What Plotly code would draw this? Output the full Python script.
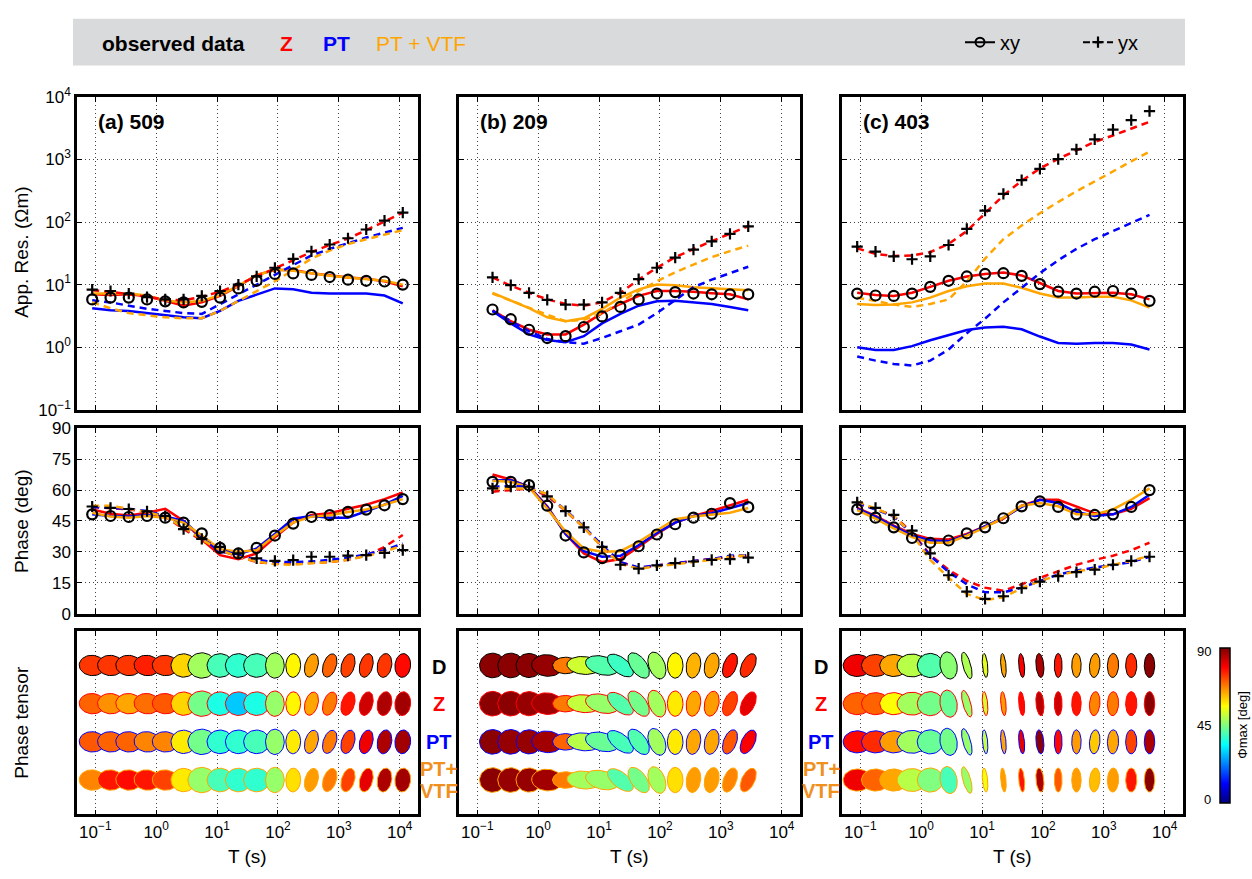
import numpy as np
import plotly.graph_objects as go
from plotly.colors import sample_colorscale

W, H = 1252, 879
FONT = "Liberation Sans, Arial, Helvetica, sans-serif"

# ======================= DATA =======================
# ---- site 509 (a) ----
T_a = [0.089, 0.178, 0.355, 0.708, 1.41, 2.82, 5.62, 11.2, 22.4, 44.7, 89.1, 178, 355, 708, 1413, 2818, 5623, 11220]
rho_obs_xy_a = [5.8, 6.2, 6.2, 5.8, 5.4, 5.2, 5.3, 6.2, 8.7, 11.5, 14.8, 15.1, 14.3, 13.2, 12.0, 11.5, 11.2, 10.0]
rho_obs_yx_a = [8.3, 7.9, 7.2, 6.3, 5.8, 5.8, 6.6, 7.9, 10.0, 13.5, 18.6, 25.7, 33.9, 43.7, 55.0, 75.9, 105, 141]
rho_Z_xy_a = [7.0, 6.8, 7.0, 6.5, 5.5, 4.6, 5.2, 6.6, 9.4, 14.3, 17.1, 17.1, 15.2, 14.0, 13.0, 12.4, 11.3, 9.4]
rho_PT_xy_a = [4.2, 3.9, 3.8, 3.5, 3.2, 3.0, 2.9, 3.8, 5.5, 7.0, 8.7, 8.4, 7.4, 7.2, 7.2, 7.2, 6.7, 5.0]
rho_PV_xy_a = [7.2, 7.2, 7.2, 6.7, 5.6, 5.2, 5.5, 6.8, 9.6, 14.0, 17.5, 16.7, 15.2, 13.8, 13.0, 12.1, 11.5, 10.0]
rho_Z_yx_a = [8.1, 7.7, 7.0, 6.4, 5.8, 5.6, 6.4, 7.7, 10.0, 13.5, 18.2, 24.5, 33.0, 42.9, 54.4, 74.1, 102, 141]
rho_PT_yx_a = [5.6, 5.2, 4.6, 4.1, 3.8, 3.5, 3.4, 4.9, 7.0, 10.0, 14.3, 20.5, 29.2, 37.2, 46.0, 56.4, 67.5, 80.7]
rho_PV_yx_a = [5.2, 4.2, 3.5, 3.2, 3.0, 2.9, 2.9, 3.8, 5.5, 7.9, 11.3, 17.1, 26.0, 35.0, 44.5, 53.1, 63.5, 74.1]
phs_obs_xy_a = [48.2, 47.4, 46.9, 47.4, 46.6, 44.2, 39.0, 31.9, 29.2, 31.9, 37.9, 43.7, 46.9, 47.8, 49.4, 50.5, 52.6, 55.6]
phs_obs_yx_a = [52.0, 51.3, 50.8, 49.7, 47.4, 41.0, 36.3, 32.4, 29.2, 26.8, 25.6, 26.0, 27.6, 27.6, 28.1, 28.4, 29.5, 30.8]
phs_Z_xy_a = [50.6, 48.5, 47.7, 49.0, 50.9, 45.0, 36.0, 28.4, 26.4, 29.2, 37.1, 44.2, 47.9, 48.7, 50.9, 52.9, 55.6, 58.8]
phs_PT_xy_a = [48.2, 47.4, 47.1, 47.7, 47.1, 45.0, 37.1, 30.0, 28.8, 31.6, 38.7, 46.1, 47.4, 46.6, 46.6, 49.8, 52.9, 57.2]
phs_PV_xy_a = [49.0, 47.1, 46.6, 47.4, 46.6, 44.2, 37.9, 31.3, 30.0, 30.8, 37.9, 44.2, 47.1, 47.7, 49.3, 50.6, 52.9, 55.6]
phs_Z_yx_a = [51.8, 51.3, 50.6, 49.3, 47.1, 41.1, 35.5, 30.8, 27.6, 25.0, 24.2, 24.2, 24.5, 25.0, 26.1, 28.1, 32.4, 38.2]
phs_PT_yx_a = [51.8, 51.3, 50.9, 49.8, 47.4, 41.9, 36.3, 31.3, 28.1, 26.1, 25.0, 25.0, 25.3, 26.1, 27.2, 28.8, 30.8, 34.0]
phs_PV_yx_a = [52.4, 52.4, 50.9, 49.3, 47.1, 41.9, 36.0, 30.8, 27.6, 25.3, 24.0, 23.7, 24.5, 25.0, 26.1, 28.1, 30.0, 33.2]
# phase tensor: Phi_max (deg) for D, Z, PT, PT+VTF; relative axes and orientation
ptmax_D_a = [74, 74, 74, 76, 74, 60, 48, 40, 38, 40, 48, 57, 65, 70, 73, 74, 74, 78]
ptmax_Z_a = [70, 66, 64, 69, 71, 60, 44, 36, 29, 36, 47, 57, 64, 68, 77, 83, 86, 87]
ptmax_PT_a = [71, 70, 70, 67, 67, 58, 44, 38, 38, 40, 47, 58, 64, 68, 73, 80, 86, 87]
ptmax_PV_a = [67, 77, 78, 77, 73, 58, 47, 40, 38, 38, 47, 59, 65, 68, 73, 81, 86, 87]
pt_major_a = [1.0, 1.0, 1.0, 1.0, 1.0, 0.97, 1.07, 1.0, 1.0, 1.0, 1.0, 0.94, 0.94, 0.95, 0.95, 0.95, 0.95, 0.94]
pt_minor_a = [0.8, 0.8, 0.8, 0.8, 0.8, 0.92, 1.0, 0.93, 0.93, 0.93, 0.72, 0.57, 0.5, 0.5, 0.5, 0.5, 0.55, 0.6]
pt_angle_a = [-5, -5, -5, -8, -5, 0, 0, 0, 0, 0, 90, 88, 75, 72, 74, 76, 80, 85]

# ---- site 209 (b) ----
T_b = [0.178, 0.355, 0.708, 1.41, 2.82, 5.62, 11.2, 22.4, 44.7, 89.1, 178, 355, 708, 1413, 2818]
rho_obs_xy_b = [4.0, 2.8, 1.9, 1.4, 1.5, 2.1, 3.1, 4.4, 5.8, 7.2, 7.6, 7.2, 7.0, 7.0, 7.0]
rho_obs_yx_b = [13.0, 9.8, 7.4, 5.7, 4.8, 4.8, 5.2, 7.4, 12.2, 18.6, 26.9, 36.3, 49.0, 64.6, 85.1]
rho_Z_xy_b = [3.9, 2.6, 1.9, 1.6, 1.6, 2.3, 3.5, 4.9, 6.6, 7.9, 7.9, 7.7, 7.3, 7.0, 5.8]
rho_PT_xy_b = [3.8, 2.4, 1.6, 1.3, 1.2, 1.5, 2.4, 3.4, 4.6, 5.4, 5.5, 5.2, 4.9, 4.4, 3.9]
rho_PV_xy_b = [7.4, 5.6, 4.2, 3.0, 2.6, 2.9, 4.1, 6.2, 8.4, 10.0, 9.8, 9.1, 8.7, 8.4, 8.1]
rho_Z_yx_b = [13.0, 9.6, 7.4, 5.8, 4.9, 4.6, 5.2, 7.4, 12.0, 18.6, 27.5, 37.2, 49.4, 65.0, 85.7]
rho_PT_yx_b = [3.8, 2.6, 1.8, 1.35, 1.2, 1.14, 1.4, 1.8, 2.3, 3.5, 5.6, 9.1, 12.0, 15.2, 19.3]
rho_PV_yx_b = [7.2, 5.5, 4.2, 3.3, 2.6, 2.75, 3.5, 5.2, 7.9, 11.3, 15.7, 20.9, 27.5, 34.2, 41.9]
phs_obs_xy_b = [64.0, 64.0, 62.4, 52.4, 37.9, 29.7, 26.9, 28.4, 32.7, 38.4, 43.4, 46.6, 48.5, 53.7, 51.7]
phs_obs_yx_b = [60.8, 61.6, 61.6, 56.9, 49.8, 41.9, 32.4, 23.7, 21.8, 23.4, 24.5, 25.3, 26.1, 26.4, 27.2]
phs_Z_xy_b = [67.6, 65.1, 61.6, 52.1, 38.7, 29.2, 25.0, 26.5, 32.4, 38.7, 44.2, 47.4, 49.8, 52.4, 55.3]
phs_PT_xy_b = [64.8, 64.8, 61.6, 51.8, 38.7, 30.3, 27.6, 28.1, 33.2, 39.2, 44.2, 47.4, 48.7, 51.3, 53.7]
phs_PV_xy_b = [64.5, 64.0, 61.3, 50.9, 39.8, 31.6, 30.0, 30.3, 34.8, 40.3, 45.8, 47.1, 48.2, 49.0, 51.3]
phs_Z_yx_b = [59.2, 60.0, 60.8, 57.2, 49.8, 41.9, 32.4, 25.0, 22.1, 23.4, 24.5, 25.6, 26.5, 27.6, 28.1]
phs_PT_yx_b = [61.6, 61.9, 61.6, 57.7, 50.2, 42.3, 33.2, 25.0, 22.4, 23.4, 24.6, 25.6, 26.5, 28.1, 28.4]
phs_PV_yx_b = [60.8, 60.8, 60.8, 58.1, 50.2, 41.9, 32.4, 24.0, 21.8, 22.9, 24.2, 25.3, 26.1, 27.6, 28.4]
ptmax_D_b = [89, 89, 89, 88, 68, 52, 41, 39, 43, 48, 57, 63, 64, 77, 75]
ptmax_Z_b = [89, 89, 88, 87, 68, 51, 47, 41, 44, 48, 58, 64, 65, 73, 81]
ptmax_PT_b = [89, 88, 88, 87, 70, 50, 43, 40, 41, 48, 58, 64, 64, 71, 79]
ptmax_PV_b = [89, 88, 88, 87, 68, 48, 47, 41, 44, 48, 59, 65, 65, 67, 71]
pt_major_b = [1.0, 1.0, 1.0, 1.2, 1.0, 1.3, 1.3, 1.2, 1.15, 1.1, 1.0, 1.0, 1.0, 1.0, 1.0]
pt_minor_b = [0.97, 0.97, 0.95, 0.85, 0.65, 0.7, 0.72, 0.6, 0.6, 0.62, 0.6, 0.55, 0.55, 0.5, 0.5]
pt_angle_b = [0, 0, 0, -5, 0, -5, -15, -40, -55, -70, 90, 82, 78, 70, 65]

# ---- site 403 (c) ----
T_c = [0.089, 0.178, 0.355, 0.708, 1.41, 2.82, 5.62, 11.2, 22.4, 44.7, 89.1, 178, 355, 708, 1413, 2818, 5623]
rho_obs_xy_c = [7.2, 6.7, 6.6, 7.2, 9.2, 11.5, 13.5, 14.8, 15.2, 13.8, 10.2, 7.7, 7.2, 7.7, 7.9, 7.2, 5.5]
rho_obs_yx_c = [40.4, 33.7, 28.2, 25.4, 28.2, 42.9, 77.8, 152, 282, 466, 708, 1012, 1449, 2094, 3000, 4236, 5916]
rho_Z_xy_c = [7.4, 6.8, 6.6, 7.4, 9.2, 11.5, 13.5, 14.8, 15.6, 14.0, 10.6, 7.9, 7.2, 7.2, 7.4, 7.0, 5.8]
rho_PT_xy_c = [1.0, 0.90, 0.90, 1.04, 1.29, 1.57, 1.88, 2.07, 2.12, 1.93, 1.48, 1.17, 1.13, 1.17, 1.17, 1.10, 0.92]
rho_PV_xy_c = [4.9, 4.7, 4.8, 5.2, 6.2, 7.9, 9.4, 10.4, 10.4, 8.9, 7.2, 6.2, 6.2, 6.4, 6.4, 5.6, 4.3]
rho_Z_yx_c = [38.0, 31.0, 28.6, 29.2, 33.0, 44.5, 71.6, 138, 266, 455, 716, 1023, 1413, 1905, 2415, 3141, 3990]
rho_PT_yx_c = [0.71, 0.61, 0.54, 0.51, 0.61, 0.92, 1.67, 2.86, 5.2, 8.9, 15.2, 24.5, 37.2, 53.1, 71.6, 96.4, 130]
rho_PV_yx_c = [6.2, 5.4, 4.8, 4.4, 4.9, 5.8, 11.3, 26.0, 53.1, 87.7, 138, 209, 310, 445, 650, 931, 1330]
phs_obs_xy_c = [50.6, 46.6, 41.9, 36.7, 34.4, 35.5, 39.0, 41.9, 46.3, 52.1, 54.5, 51.8, 48.2, 47.9, 48.2, 51.8, 60.0]
phs_obs_yx_c = [54.0, 51.3, 47.9, 40.3, 29.2, 18.6, 10.7, 7.1, 8.4, 12.3, 15.5, 18.2, 20.1, 21.3, 23.7, 25.6, 27.6]
phs_Z_xy_c = [51.3, 47.4, 42.7, 38.7, 36.3, 36.0, 38.7, 42.3, 46.1, 52.4, 55.3, 55.3, 52.1, 48.7, 48.2, 50.9, 56.1]
phs_PT_xy_c = [50.9, 47.1, 42.3, 37.9, 35.5, 35.1, 38.2, 42.3, 46.6, 51.8, 55.3, 53.7, 49.3, 47.4, 48.2, 51.8, 57.7]
phs_PV_xy_c = [50.2, 46.1, 41.4, 37.1, 34.4, 34.4, 37.9, 41.9, 46.6, 52.4, 53.7, 52.1, 48.2, 48.2, 50.6, 55.3, 60.8]
phs_Z_yx_c = [53.4, 50.9, 47.4, 39.5, 28.4, 21.3, 15.8, 12.6, 11.1, 14.2, 17.4, 20.5, 23.7, 26.1, 28.1, 30.8, 34.4]
phs_PT_yx_c = [53.7, 50.6, 47.1, 38.7, 28.1, 20.2, 14.2, 10.3, 10.3, 12.6, 15.8, 19.0, 20.9, 22.4, 23.7, 25.0, 27.6]
phs_PV_yx_c = [54.5, 50.9, 47.4, 38.7, 26.1, 17.4, 9.5, 6.6, 7.9, 12.3, 15.8, 18.6, 20.5, 21.8, 23.7, 25.6, 28.1]
ptmax_D_c = [80, 73, 64, 50, 41, 46, 49, 54, 64, 79, 86, 77, 65, 65, 68, 75, 89]
ptmax_Z_c = [70, 70, 56, 48, 44, 43, 47, 52, 65, 78, 85, 83, 77, 67, 68, 77, 89]
ptmax_PT_c = [78, 75, 65, 48, 43, 44, 47, 51, 64, 81, 89, 78, 65, 61, 64, 73, 86]
ptmax_PV_c = [80, 70, 64, 50, 45, 40, 47, 55, 65, 77, 86, 71, 65, 62, 65, 77, 89]
pt_major_c = [1.08, 1.08, 1.08, 1.15, 1.0, 1.08, 1.08, 0.95, 0.95, 0.95, 0.95, 0.95, 0.95, 0.95, 0.95, 0.95, 0.95]
pt_minor_c = [0.87, 0.87, 0.87, 0.9, 0.95, 0.65, 0.3, 0.2, 0.2, 0.22, 0.3, 0.3, 0.36, 0.4, 0.43, 0.43, 0.4]
pt_angle_c = [0, 0, 0, 0, 0, 100, 105, 95, 95, 95, 95, 90, 90, 85, 88, 90, 90]

site_labels = ["(a) 509", "(b) 209", "(c) 403"]
pt_row_labels = ["D", "Z", "PT", "PT+VTF"]
x_tickvals = [0.1, 1, 10, 100, 1000, 10000]
x_ticktext = ["10<sup>\u22121</sup>", "10<sup>0</sup>", "10<sup>1</sup>", "10<sup>2</sup>", "10<sup>3</sup>", "10<sup>4</sup>"]
rho_tickvals = [0.1, 1, 10, 100, 1000, 10000]
rho_ticktext = x_ticktext
phs_tickvals = [0, 15, 30, 45, 60, 75, 90]

SITES = [
    dict(T=T_a,
         rho=dict(obs_xy=rho_obs_xy_a, obs_yx=rho_obs_yx_a, Z_xy=rho_Z_xy_a, PT_xy=rho_PT_xy_a, PV_xy=rho_PV_xy_a,
                  Z_yx=rho_Z_yx_a, PT_yx=rho_PT_yx_a, PV_yx=rho_PV_yx_a),
         phs=dict(obs_xy=phs_obs_xy_a, obs_yx=phs_obs_yx_a, Z_xy=phs_Z_xy_a, PT_xy=phs_PT_xy_a, PV_xy=phs_PV_xy_a,
                  Z_yx=phs_Z_yx_a, PT_yx=phs_PT_yx_a, PV_yx=phs_PV_yx_a),
         ptmax=[ptmax_D_a, ptmax_Z_a, ptmax_PT_a, ptmax_PV_a],
         major=pt_major_a, minor=pt_minor_a, angle=pt_angle_a),
    dict(T=T_b,
         rho=dict(obs_xy=rho_obs_xy_b, obs_yx=rho_obs_yx_b, Z_xy=rho_Z_xy_b, PT_xy=rho_PT_xy_b, PV_xy=rho_PV_xy_b,
                  Z_yx=rho_Z_yx_b, PT_yx=rho_PT_yx_b, PV_yx=rho_PV_yx_b),
         phs=dict(obs_xy=phs_obs_xy_b, obs_yx=phs_obs_yx_b, Z_xy=phs_Z_xy_b, PT_xy=phs_PT_xy_b, PV_xy=phs_PV_xy_b,
                  Z_yx=phs_Z_yx_b, PT_yx=phs_PT_yx_b, PV_yx=phs_PV_yx_b),
         ptmax=[ptmax_D_b, ptmax_Z_b, ptmax_PT_b, ptmax_PV_b],
         major=pt_major_b, minor=pt_minor_b, angle=pt_angle_b),
    dict(T=T_c,
         rho=dict(obs_xy=rho_obs_xy_c, obs_yx=rho_obs_yx_c, Z_xy=rho_Z_xy_c, PT_xy=rho_PT_xy_c, PV_xy=rho_PV_xy_c,
                  Z_yx=rho_Z_yx_c, PT_yx=rho_PT_yx_c, PV_yx=rho_PV_yx_c),
         phs=dict(obs_xy=phs_obs_xy_c, obs_yx=phs_obs_yx_c, Z_xy=phs_Z_xy_c, PT_xy=phs_PT_xy_c, PV_xy=phs_PV_xy_c,
                  Z_yx=phs_Z_yx_c, PT_yx=phs_PT_yx_c, PV_yx=phs_PV_yx_c),
         ptmax=[ptmax_D_c, ptmax_Z_c, ptmax_PT_c, ptmax_PV_c],
         major=pt_major_c, minor=pt_minor_c, angle=pt_angle_c),
]

# ======================= STYLE / LAYOUT =======================
RED, BLUE, ORANGE = "#ff0000", "#0000ff", "#ffa500"
ORANGE_TXT = "#f0901e"
MODELS = [("Z", RED), ("PT", BLUE), ("PV", ORANGE)]
DASH = "7px,5px"
JET = [[0.0, "rgb(0,0,128)"], [0.125, "rgb(0,0,255)"], [0.375, "rgb(0,255,255)"],
       [0.625, "rgb(255,255,0)"], [0.875, "rgb(255,0,0)"], [1.0, "rgb(128,0,0)"]]
PT_EDGE = ["#000000", RED, BLUE, ORANGE]
PT_ROWY = [4, 3, 2, 1]

COLX = [(77, 418), (459, 800), (842, 1183)]
ROWY = [(87, 408), (427, 617), (635, 823)]
XR = [-1.3, 4.3]
YR3 = [0.1, 4.9]
PPD = (COLX[0][1] - COLX[0][0]) / (XR[1] - XR[0])
PPU = (ROWY[2][1] - ROWY[2][0]) / (YR3[1] - YR3[0])
ELL_PX = 26.0
THETA = np.linspace(0, 2 * np.pi, 49)


def px(x):
    return x / W


def py(y):
    return 1 - y / H


def ellipse(T, yrow, major, minor, ang):
    a = major * ELL_PX / 2
    b = minor * ELL_PX / 2
    t = np.deg2rad(ang)
    dx = a * np.cos(THETA) * np.cos(t) - b * np.sin(THETA) * np.sin(t)
    dy = a * np.cos(THETA) * np.sin(t) + b * np.sin(THETA) * np.cos(t)
    return 10 ** (np.log10(T) + dx / PPD), yrow + dy / PPU


fig = go.Figure()
layout = dict(width=W, height=H, margin=dict(l=0, r=0, t=0, b=0), autosize=False,
              paper_bgcolor="white", plot_bgcolor="white",
              font=dict(family=FONT, size=17, color="black"), showlegend=True)

grid = dict(showgrid=True, gridcolor="#444", gridwidth=1, griddash="1px,3px",
            showline=True, linecolor="black", linewidth=2.5, mirror="allticks",
            ticks="inside", ticklen=5, tickwidth=1, tickcolor="black", zeroline=False)

for r in range(3):
    for c in range(3):
        k = r * 3 + c + 1
        sfx = "" if k == 1 else str(k)
        xa = dict(grid, type="log", range=XR, domain=[px(COLX[c][0]), px(COLX[c][1])],
                  anchor="y" + sfx, tickmode="array", tickvals=x_tickvals, ticktext=x_ticktext,
                  showticklabels=(r == 2), tickfont=dict(size=17))
        if r == 0:
            ya = dict(grid, type="log", range=[-1, 4], tickmode="array", tickvals=rho_tickvals,
                      ticktext=rho_ticktext, showticklabels=(c == 0), tickfont=dict(size=17))
        elif r == 1:
            ya = dict(grid, range=[0, 90], tickmode="array", tickvals=phs_tickvals,
                      showticklabels=(c == 0), tickfont=dict(size=17))
        else:
            ya = dict(grid, range=YR3, showgrid=False, ticks="", showticklabels=False)
        ya.update(domain=[py(ROWY[r][1]), py(ROWY[r][0])], anchor="x" + sfx)
        layout["xaxis" + sfx] = xa
        layout["yaxis" + sfx] = ya

# ---- legend entries (xy / yx) ----
fig.add_trace(go.Scatter(x=[None], y=[None], mode="lines+markers", name="xy",
                         line=dict(color="black", width=2),
                         marker=dict(symbol="circle-open", size=9, color="black", line=dict(width=2)),
                         legend="legend"))
fig.add_trace(go.Scatter(x=[None], y=[None], mode="lines+markers", name="yx",
                         line=dict(color="black", width=2, dash=DASH),
                         marker=dict(symbol="cross-thin-open", size=8, color="black", line=dict(width=2.2, color="black")),
                         legend="legend2"))

# ---- curves ----
for c, s in enumerate(SITES):
    for r, key in enumerate(["rho", "phs"]):
        k = r * 3 + c + 1
        sfx = "" if k == 1 else str(k)
        d = s[key]
        for comp in ["xy", "yx"]:
            for m, col in MODELS:
                fig.add_trace(go.Scatter(x=s["T"], y=d[m + "_" + comp], mode="lines", showlegend=False,
                                         line=dict(color=col, width=2.5, dash=("solid" if comp == "xy" else DASH)),
                                         xaxis="x" + sfx, yaxis="y" + sfx, hoverinfo="skip"))
        fig.add_trace(go.Scatter(x=s["T"], y=d["obs_xy"], mode="markers", showlegend=False,
                                 marker=dict(symbol="circle-open", size=10, color="black", line=dict(width=2.2)),
                                 xaxis="x" + sfx, yaxis="y" + sfx))
        fig.add_trace(go.Scatter(x=s["T"], y=d["obs_yx"], mode="markers", showlegend=False,
                                 marker=dict(symbol="cross-thin-open", size=8, color="black",
                                             line=dict(width=2.2, color="black")),
                                 xaxis="x" + sfx, yaxis="y" + sfx))

    # ---- phase tensor ellipses ----
    k = 6 + c + 1
    sfx = str(k)
    for ri in range(4):
        vals = s["ptmax"][ri]
        cols = sample_colorscale(JET, [v / 90.0 for v in vals])
        for i, T in enumerate(s["T"]):
            ex, ey = ellipse(T, PT_ROWY[ri], s["major"][i], s["minor"][i], s["angle"][i])
            fig.add_trace(go.Scatter(x=ex, y=ey, mode="lines", fill="toself", fillcolor=cols[i],
                                     line=dict(color=PT_EDGE[ri], width=1), showlegend=False,
                                     hoverinfo="skip", xaxis="x" + sfx, yaxis="y" + sfx))

# colorbar carrier
fig.add_trace(go.Scatter(x=T_c, y=[PT_ROWY[0]] * len(T_c), mode="markers", showlegend=False,
                         marker=dict(color=ptmax_D_c, colorscale=JET, cmin=0, cmax=90, opacity=0, size=2,
                                     showscale=True,
                                     colorbar=dict(x=px(1220), xanchor="left", xpad=0, ypad=0,
                                                   y=py(732), yanchor="middle", len=155, lenmode="pixels",
                                                   thickness=10, thicknessmode="pixels",
                                                   outlinewidth=1.5, outlinecolor="black",
                                                   showticklabels=False, ticks="")),
                         xaxis="x9", yaxis="y9", hoverinfo="skip"))

# ---- annotations ----
ann = []


def add_text(text, x, y, size=17, color="black", bold=False, xanchor="center", angle=0, yanchor="middle"):
    ann.append(dict(text=("<b>%s</b>" % text) if bold else text, x=px(x), y=py(y), xref="paper", yref="paper",
                    showarrow=False, xanchor=xanchor, yanchor=yanchor, textangle=angle,
                    font=dict(family=FONT, size=size, color=color)))


add_text("App. Res. (\u03a9m)", 22, 247, size=19, angle=-90)
add_text("Phase (deg)", 22, 522, size=19, angle=-90)
add_text("Phase tensor", 22, 729, size=19, angle=-90)
for c in range(3):
    add_text("T (s)", (COLX[c][0] + COLX[c][1]) / 2, 866, size=19)
    add_text(site_labels[c], COLX[c][0] + 19, 112, size=21, bold=True, xanchor="left")
for xc in [439, 821]:
    add_text("D", xc, 672, size=20, bold=True)
    add_text("Z", xc, 710, size=20, bold=True, color=RED)
    add_text("PT", xc, 749, size=20, bold=True, color=BLUE)
    add_text("PT+", xc, 776, size=20, bold=True, color=ORANGE_TXT)
    add_text("VTF", xc, 799, size=20, bold=True, color=ORANGE_TXT)

# top legend band texts
add_text("observed data", 100, 32, size=21, bold=True, xanchor="left")
add_text("Z", 286, 32, size=21, bold=True, color=RED)
add_text("PT", 336, 32, size=21, bold=True, color=BLUE)
add_text("PT + VTF", 421, 32, size=21, color=ORANGE)

# colorbar labels
add_text("90", 1213, 656, size=13, xanchor="right")
add_text("45", 1213, 732, size=13, xanchor="right")
add_text("0", 1213, 808, size=13, xanchor="right")
add_text("\u03a6max [deg]", 1243, 732, size=13, angle=-90)

layout["annotations"] = ann
layout["shapes"] = [dict(type="rect", xref="paper", yref="paper", x0=px(73), x1=px(1185), y0=py(55), y1=py(7),
                         fillcolor="#d9dadb", line=dict(width=0), layer="below")]
layout["legend"] = dict(x=px(960), y=py(31), xanchor="left", yanchor="middle", orientation="h",
                        bgcolor="rgba(0,0,0,0)", font=dict(family=FONT, size=20), itemwidth=30)
layout["legend2"] = dict(x=px(1078), y=py(31), xanchor="left", yanchor="middle", orientation="h",
                         bgcolor="rgba(0,0,0,0)", font=dict(family=FONT, size=20), itemwidth=30)

fig.update_layout(**layout)
fig.write_html("out.html", config={"displayModeBar": False},
               post_script="document.body.style.margin='0';document.body.style.padding='0';"
                           "document.documentElement.style.overflow='hidden';")
